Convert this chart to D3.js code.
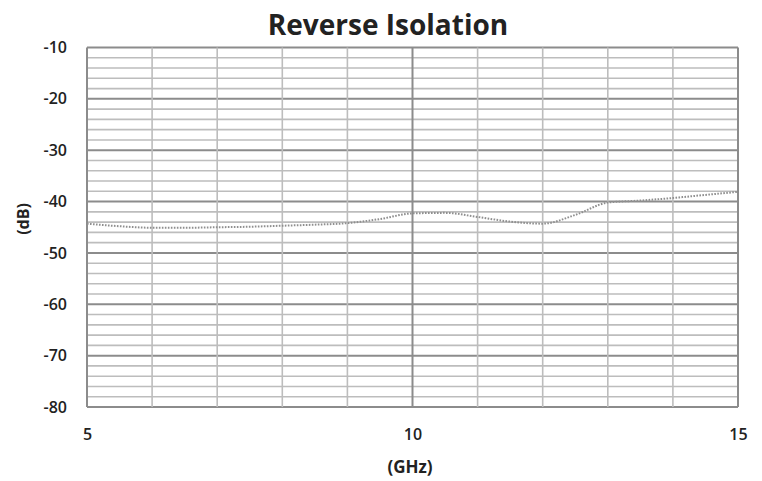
<!DOCTYPE html>
<html>
<head>
<meta charset="utf-8">
<script src="https://cdn.jsdelivr.net/npm/d3@7"></script>
<style>
  html, body { margin: 0; padding: 0; background: #fff; }
  svg { display: block; }
  text { font-family: "Open Sans", "DejaVu Sans", sans-serif; fill: #222; }
</style>
</head>
<body>
<svg id="chart" width="762" height="481"></svg>
<script>
// Reverse isolation (dB) versus frequency (GHz)
const freqGHz = [5, 5.5, 6, 6.5, 7, 7.5, 8, 8.5, 9, 9.5, 10, 10.5, 11, 11.5, 12, 12.5, 13, 13.5, 14, 14.5, 15];
const isolationDb = [-44.3, -44.8, -45.1, -45.1, -45.0, -44.9, -44.7, -44.5, -44.2, -43.4, -42.3, -42.2, -43.0, -43.9, -44.3, -42.6, -40.2, -39.8, -39.3, -38.7, -38.1];
const xTickLabels = [5, 10, 15];
const yTickLabels = [-10, -20, -30, -40, -50, -60, -70, -80];
const xGridValues = d3.range(5, 15.01, 1);
const yGridValues = d3.range(-80, -9.99, 2);

const svg = d3.select("#chart");
const margin = { left: 87, right: 24, top: 47.5, bottom: 74 };
const W = 762, H = 481;

const x = d3.scaleLinear().domain([5, 15]).range([margin.left, W - margin.right]);
const y = d3.scaleLinear().domain([-80, -10]).range([H - margin.bottom, margin.top]);

const grid = svg.append("g");

// horizontal grid: minor every 2 dB, major every 10 dB
grid.selectAll("line.h")
  .data(yGridValues)
  .join("line")
  .attr("x1", x(5)).attr("x2", x(15))
  .attr("y1", d => y(d)).attr("y2", d => y(d))
  .attr("stroke", d => Math.round(d) % 10 === 0 ? "#8c8c8c" : "#bdbdbd")
  .attr("stroke-width", d => Math.round(d) % 10 === 0 ? 2 : 1.6);

// vertical grid: minor every 1 GHz, major at labelled ticks
grid.selectAll("line.v")
  .data(xGridValues)
  .join("line")
  .attr("y1", y(-80)).attr("y2", y(-10))
  .attr("x1", d => x(d)).attr("x2", d => x(d))
  .attr("stroke", d => Math.round(d) % 5 === 0 ? "#8c8c8c" : "#bdbdbd")
  .attr("stroke-width", d => Math.round(d) % 5 === 0 ? 2 : 1.6);

// plain hyphen-minus labels
const plain = d => String(d);

const yAxis = d3.axisLeft(y).tickValues(yTickLabels).tickFormat(plain).tickSize(0).tickPadding(20);
svg.append("g")
  .attr("transform", `translate(${margin.left},0)`)
  .call(yAxis)
  .call(g => g.select(".domain").remove())
  .selectAll("text")
  .style("font-size", "16px").style("font-weight", 600)
  .attr("fill", "#222");

const xAxis = d3.axisBottom(x).tickValues(xTickLabels).tickFormat(plain).tickSize(0).tickPadding(22);
svg.append("g")
  .attr("transform", `translate(0,${y(-80)})`)
  .call(xAxis)
  .call(g => g.select(".domain").remove())
  .selectAll("text")
  .style("font-size", "16px").style("font-weight", 600)
  .attr("fill", "#222");

// data curve
const line = d3.line()
  .x((d, i) => x(freqGHz[i]))
  .y(d => y(d))
  .curve(d3.curveMonotoneX);

svg.append("path")
  .datum(isolationDb)
  .attr("d", line)
  .attr("fill", "none")
  .attr("stroke", "#8f8f8f")
  .attr("stroke-width", 2)
  .attr("stroke-dasharray", "1.6,1.4");

// title and axis titles
svg.append("text")
  .attr("x", 388).attr("y", 35)
  .attr("text-anchor", "middle")
  .style("font-size", "28px").style("font-weight", 700)
  .attr("fill", "#111")
  .text("Reverse Isolation");

svg.append("text")
  .attr("x", 410).attr("y", 473)
  .attr("text-anchor", "middle")
  .style("font-size", "17px").style("font-weight", 700)
  .text("(GHz)");

svg.append("text")
  .attr("transform", "translate(29,219) rotate(-90)")
  .attr("text-anchor", "middle")
  .style("font-size", "16px").style("font-weight", 700)
  .text("(dB)");
</script>
</body>
</html>
